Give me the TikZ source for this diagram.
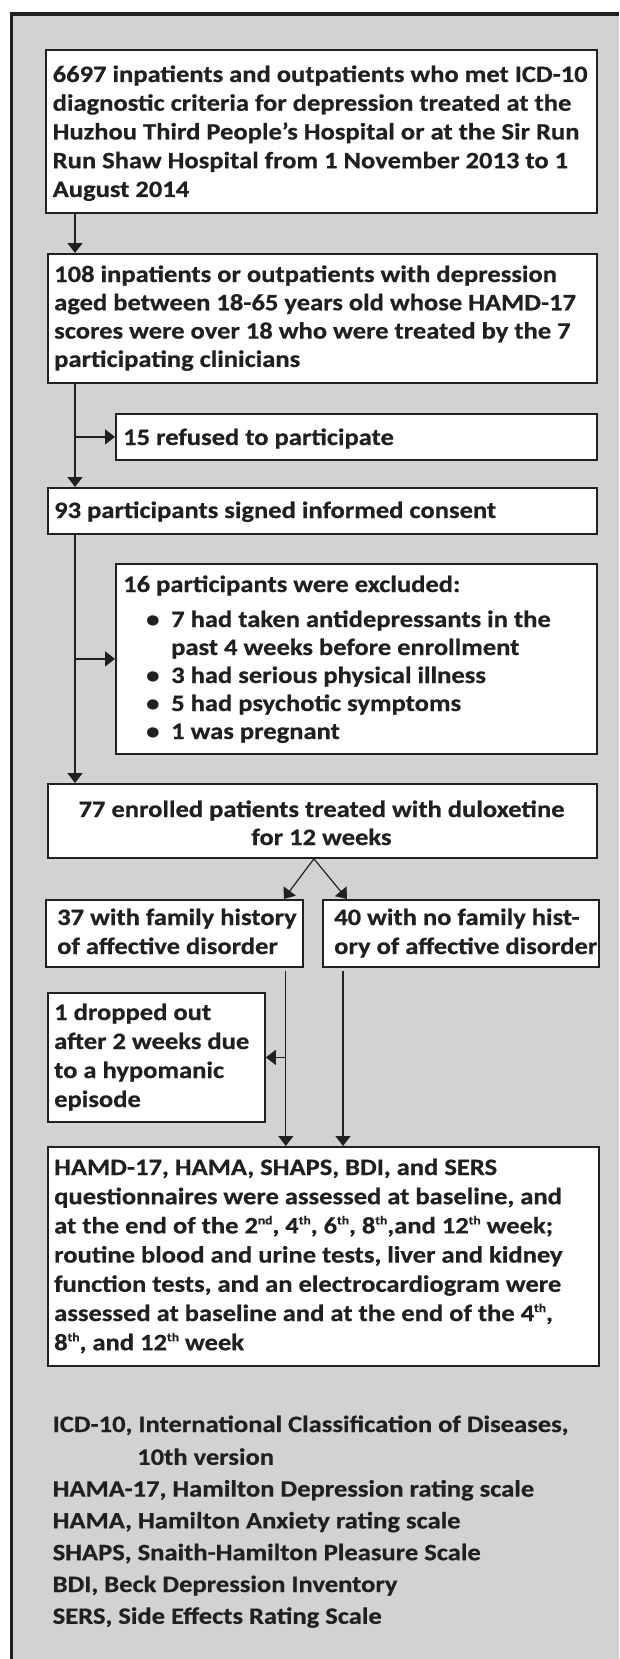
\documentclass[tikz,border=0pt]{standalone}
\usepackage{fontspec}
\setmainfont{Carlito}[FakeStretch=1.13, BoldFeatures={FakeBold=0.6}]
\usetikzlibrary{arrows.meta}
\definecolor{ink}{HTML}{231F20}
\definecolor{bg}{RGB}{210,210,212}
\newcommand\sups[1]{\raisebox{9pt}{\fontsize{12}{12}\selectfont #1}}
\newcommand\bul{\makebox[48pt][l]{\hspace{23pt}•}}
\newcommand\ml[1]{\begin{tabular}[t]{@{}l@{}}#1\end{tabular}}
\newcommand\mc[1]{\begin{tabular}[t]{@{}c@{}}#1\end{tabular}}
\tikzset{
 box/.style={draw=ink, fill=white, line width=1.8pt, inner sep=0pt, anchor=north west},
 txt/.style={anchor=base west, inner sep=0pt, text=ink, font=\bfseries\fontsize{23.5}{#1}\selectfont},
 txt/.default=28.5,
 arr/.style={draw=ink, line width=1.8pt, -{Triangle[length=10pt,width=15pt]}},
 thinarr/.style={draw=ink, line width=1.2pt, -{Triangle[length=10pt,width=15pt]}},
}
\begin{document}
\begin{tikzpicture}[x=1pt,y=-1pt]
\useasboundingbox (0,0) rectangle (619,1659);
\fill[bg] (11.5,14) rectangle (619,1659);
\draw[ink, line width=3.5pt] (11.5,1659) -- (11.5,14) -- (619,14);

% boxes
\node[box, minimum width=551pt, minimum height=163pt] (b1) at (45,49) {};
\node[box, minimum width=549pt, minimum height=129pt] (b2) at (47,253) {};
\node[box, minimum width=481pt, minimum height=46pt] (ref) at (115,413) {};
\node[box, minimum width=549pt, minimum height=46pt] (b3) at (47,487) {};
\node[box, minimum width=481pt, minimum height=190pt] (exc) at (115,563) {};
\node[box, minimum width=549pt, minimum height=74pt] (b5) at (47,783) {};
\node[box, minimum width=257pt, minimum height=67pt] (fh) at (45,899) {};
\node[box, minimum width=276pt, minimum height=67pt] (nfh) at (322,899) {};
\node[box, minimum width=217pt, minimum height=129pt] (drop) at (47,992) {};
\node[box, minimum width=551pt, minimum height=219pt] (hamd) at (47,1146) {};

% texts
\node[txt=28.75] (t1) at (52.5,82) {\ml{6697 inpatients and outpatients who met ICD-10\\diagnostic criteria for depression treated at the\\Huzhou Third People’s Hospital or at the Sir Run\\Run Shaw Hospital from 1 November 2013 to 1\\August 2014}};
\node[txt=28.3] (t2) at (54,282) {\ml{108 inpatients or outpatients with depression\\aged between 18-65 years old whose HAMD-17\\scores were over 18 who were treated by the 7\\participating clinicians}};
\node[txt] (tref) at (123,445) {15 refused to participate};
\node[txt] (t3) at (54,518) {93 participants signed informed consent};
\node[txt=28] (texc) at (123,592) {\ml{16 participants were excluded:\\[7pt]\bul 7 had taken antidepressants in the\\\hspace*{48pt}past 4 weeks before enrollment\\\bul 3 had serious physical illness\\\bul 5 had psychotic symptoms\\\bul 1 was pregnant}};
\node[txt=28, anchor=base] (t5) at (321.5,817) {\mc{77 enrolled patients treated with duloxetine\\for 12 weeks}};
\node[txt=29] (tfh) at (57,925) {\ml{37 with family history\\of affective disorder}};
\node[txt=29] (tnfh) at (334,925) {\ml{40 with no family hist-\\ory of affective disorder}};
\node[txt=29] (tdrop) at (54,1020) {\ml{1 dropped out\\after 2 weeks due\\to a hypomanic\\episode}};
\node[txt=29.2] (thamd) at (54,1175) {\ml{HAMD-17, HAMA, SHAPS, BDI, and SERS\\questionnaires were assessed at baseline, and\\at the end of the 2\sups{nd}, 4\sups{th}, 6\sups{th}, 8\sups{th},and 12\sups{th} week;\\routine blood and urine tests, liver and kidney\\function tests, and an electrocardiogram were\\assessed at baseline and at the end of the 4\sups{th},\\8\sups{th}, and 12\sups{th} week}};
\node[txt=31.8] (leg) at (52.5,1432) {\ml{ICD-10, International Classification of Diseases,\\[1pt]\hspace*{84.5pt}10th version\\HAMA-17, Hamilton Depression rating scale\\HAMA, Hamilton Anxiety rating scale\\SHAPS, Snaith-Hamilton Pleasure Scale\\BDI, Beck Depression Inventory\\SERS, Side Effects Rating Scale}};

% connectors
\coordinate (sp) at (75,0);
\draw[arr] (b1.south -| sp) -- (b2.north -| sp);
\draw[arr] (b2.south -| sp) -- (b3.north -| sp);
\draw[arr] (ref.west -| sp) -- (ref.west);
\draw[arr] (b3.south -| sp) -- (b5.north -| sp);
\draw[arr] (exc.west -| sp) -- (exc.west);
\coordinate (split) at ([xshift=-8.5pt]b5.south);
\draw[thinarr] (split) -- ([xshift=-20pt]fh.north east);
\draw[thinarr] (split) -- ([xshift=25pt]nfh.north west);
\coordinate (c1) at ([xshift=-18pt,yshift=-3pt]fh.south east);
\coordinate (c2) at ([xshift=21pt,yshift=-3pt]nfh.south west);
\draw[thinarr] (c1) -- (c1 |- hamd.north);
\draw[thinarr] (c1 |- drop.east) -- (drop.east);
\draw[thinarr] (c2) -- (c2 |- hamd.north);
\end{tikzpicture}
\end{document}
